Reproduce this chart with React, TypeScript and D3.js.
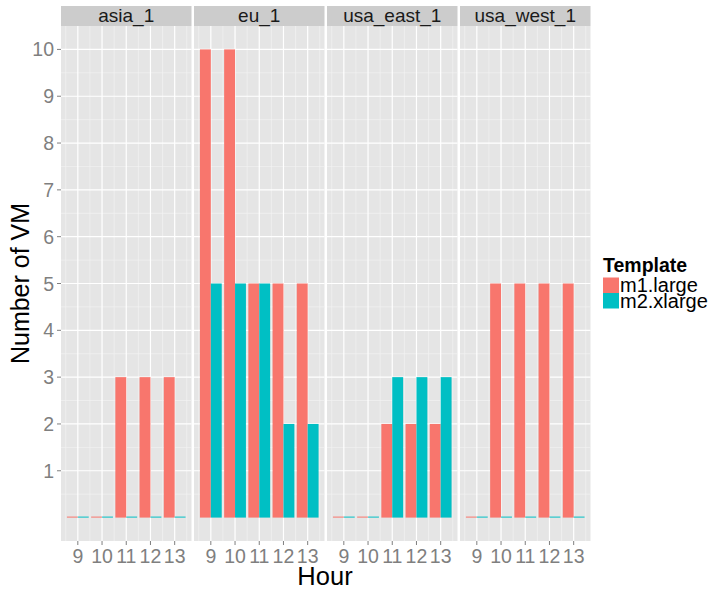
import React from "react";
import * as d3 from "d3";

const facets = ["asia_1", "eu_1", "usa_east_1", "usa_west_1"];
const hours = [9, 10, 11, 12, 13];
const templates = ["m1.large", "m2.xlarge"];
const colors = ["#F8766D", "#00BFC4"];
const asiaM1 = [0, 0, 3, 3, 3];
const asiaM2 = [0, 0, 0, 0, 0];
const euM1 = [10, 10, 5, 5, 5];
const euM2 = [5, 5, 5, 2, 2];
const eastM1 = [0, 0, 2, 2, 2];
const eastM2 = [0, 0, 3, 3, 3];
const westM1 = [0, 5, 5, 5, 5];
const westM2 = [0, 0, 0, 0, 0];
const values = [
  [asiaM1, asiaM2],
  [euM1, euM2],
  [eastM1, eastM2],
  [westM1, westM2],
];
const yTicks = [1, 2, 3, 4, 5, 6, 7, 8, 9, 10];

const FONT = "'Liberation Sans', Arial, Helvetica, sans-serif";

export default function App() {
  const W = 708, H = 589;
  const panelLefts = [61, 194, 327, 460];
  const panelW = 130.5;
  const top = 26, bottom = 541;
  const stripTop = 6;

  const y = d3.scaleLinear().domain([-0.5, 10.5]).range([bottom, top]);
  const yMinor = d3.range(0.5, 10.5, 1);
  const xMinor = d3.range(8.5, 14, 1);

  return (
    <svg width={W} height={H} style={{ display: "block", position: "absolute", left: 0, top: 0 }} fontFamily={FONT}>
      <rect width={W} height={H} fill="white" />
      {facets.map((f, fi) => {
        const x0 = panelLefts[fi];
        const x = d3.scaleLinear().domain([8.305, 13.695]).range([x0, x0 + panelW]);
        const unit = x(1) - x(0);
        const bw = 0.45 * unit;
        return (
          <g key={f}>
            <rect x={x0} y={stripTop} width={panelW} height={top - stripTop} fill="#CCCCCC" />
            <rect x={x0} y={top} width={panelW} height={bottom - top} fill="#E5E5E5" />
            {yMinor.map((v) => (
              <line key={"ym" + v} x1={x0} x2={x0 + panelW} y1={y(v)} y2={y(v)} stroke="#F2F2F2" strokeWidth={0.7} />
            ))}
            {xMinor.map((v) => (
              <line key={"xm" + v} x1={x(v)} x2={x(v)} y1={top} y2={bottom} stroke="#F2F2F2" strokeWidth={0.7} />
            ))}
            {yTicks.map((v) => (
              <line key={"yM" + v} x1={x0} x2={x0 + panelW} y1={y(v)} y2={y(v)} stroke="white" strokeWidth={1.2} />
            ))}
            {hours.map((h) => (
              <line key={"xM" + h} x1={x(h)} x2={x(h)} y1={top} y2={bottom} stroke="white" strokeWidth={1.2} />
            ))}
            {templates.map((t, ti) =>
              hours.map((h, hi) => {
                const v = values[fi][ti][hi];
                const bx = x(h) - bw + ti * bw;
                const yt = y(v);
                const hh = Math.max(y(0) - yt, 1);
                return (
                  <rect key={t + h} x={bx} y={v === 0 ? y(0) - 1 : yt} width={bw} height={hh} fill={colors[ti]} />
                );
              })
            )}
            <text x={x0 + panelW / 2} y={22} textAnchor="middle" fontSize={19} fill="#1a1a1a">{f}</text>
            {hours.map((h) => (
              <g key={"xt" + h}>
                <line x1={x(h)} x2={x(h)} y1={bottom} y2={bottom + 4} stroke="#7F7F7F" strokeWidth={1} />
                <text x={x(h)} y={bottom + 22} textAnchor="middle" fontSize={19.5} fill="#7F7F7F">{h}</text>
              </g>
            ))}
          </g>
        );
      })}
      {yTicks.map((v) => (
        <g key={"yt" + v}>
          <line x1={57} x2={61} y1={y(v)} y2={y(v)} stroke="#7F7F7F" strokeWidth={1} />
          <text x={54} y={y(v) + 7} textAnchor="end" fontSize={19.5} fill="#7F7F7F">{v}</text>
        </g>
      ))}
      <text x={325} y={585} textAnchor="middle" fontSize={25.5} fill="black">Hour</text>
      <text transform={`translate(29, ${(top + bottom) / 2 + 0}) rotate(-90)`} textAnchor="middle" fontSize={25} fill="black">Number of VM</text>
      <text x={603} y={272} fontSize={19.5} fontWeight="bold" fill="black">Template</text>
      {templates.map((t, ti) => (
        <g key={"lg" + t}>
          <rect x={603} y={277.5 + ti * 15.5} width={16} height={15.5} fill={colors[ti]} />
          <text x={620} y={292 + ti * 15.5} fontSize={20} fill="black">{t}</text>
        </g>
      ))}
    </svg>
  );
}
